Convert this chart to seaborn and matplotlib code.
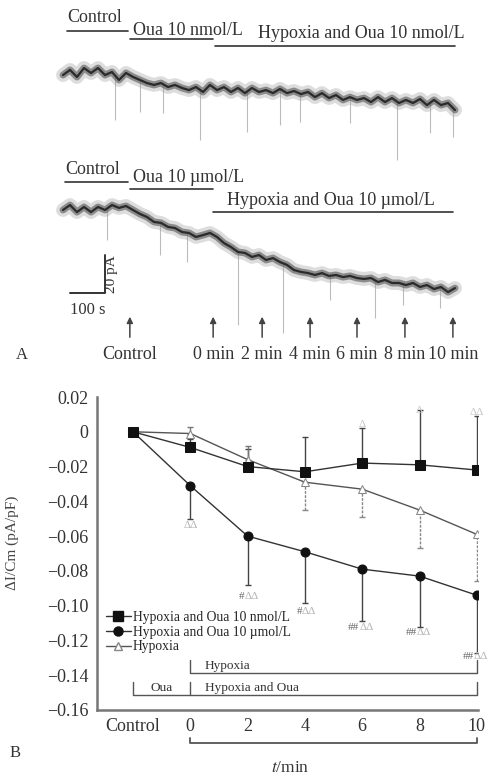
import numpy as np
import matplotlib
matplotlib.use("Agg")
import matplotlib.pyplot as plt
import matplotlib.transforms as mtransforms
import seaborn as sns
from matplotlib.lines import Line2D

sns.set_style("white")
plt.rcParams['font.family'] = ['Liberation Serif', 'DejaVu Serif']
plt.rcParams['mathtext.fontset'] = 'stix'

W, H = 500, 778
INK = "#333333"

# ---------------- panel A : whole-cell current traces (pA, 20 s per sample) ----------------
TRACE_DT = 20
top_trace = [-1.6, 1.1, -2.6, 2.1, -0.5, 2.1, -1.6, 0.0, -4.2, -0.5,
             -2.6, -4.2, -5.8, -6.8, -5.8, -7.9, -6.8, -8.4, -9.5, -7.9,
             -10.5, -6.8, -9.5, -7.9, -10.5, -8.4, -11.1, -8.4, -10.5, -9.5,
             -11.1, -8.9, -11.1, -10.0, -11.6, -10.5, -13.2, -11.1, -13.7, -12.1,
             -14.7, -13.2, -14.7, -13.7, -15.8, -13.2, -15.8, -13.7, -16.3, -14.7,
             -16.3, -14.2, -17.4, -14.7, -17.4, -16.3, -20.0]
bottom_trace = [0.0, 2.6, -1.1, 1.6, -1.1, 1.6, 0.0, 2.6, 1.1, 2.1,
                0.0, -2.1, -3.7, -6.3, -6.8, -8.9, -9.5, -11.6, -12.1, -14.2,
                -13.2, -12.1, -14.2, -17.4, -19.5, -22.1, -22.6, -24.7, -23.7, -26.3,
                -25.3, -27.4, -28.9, -31.6, -32.6, -33.2, -34.2, -33.2, -34.7, -34.2,
                -35.3, -34.7, -35.8, -36.3, -35.8, -37.9, -36.8, -38.4, -38.4, -39.5,
                -38.4, -40.5, -39.5, -41.6, -40.5, -43.2, -41.1]
top_spike_t = [149, 220, 286, 391, 526, 620, 677, 820, 954, 1049, 1114]
top_spike_depth = [-25.3, -21.0, -21.6, -35.8, -31.6, -27.9, -26.3, -26.8, -46.3, -32.1, -34.2]
bot_spike_t = [126, 277, 354, 500, 629, 763, 891, 971, 1077]
bot_spike_depth = [-15.8, -23.7, -27.4, -60.5, -64.7, -47.3, -56.8, -50.0, -51.6]
arrow_t = [191, 429, 569, 706, 840, 977, 1114]
arrow_labels = ["Control", "0 min", "2 min", "4 min", "6 min", "8 min", "10 min"]

# ---------------- panel B : ΔI/Cm (pA/pF) ----------------
time_labels = ["Control", "0", "2", "4", "6", "8", "10"]
nmol_mean = [0, -0.009, -0.020, -0.023, -0.018, -0.019, -0.022]
nmol_err_top = [np.nan, -0.004, -0.010, -0.003, 0.002, 0.0125, 0.009]
umol_mean = [0, -0.031, -0.060, -0.069, -0.079, -0.083, -0.094]
umol_err_bottom = [np.nan, -0.050, -0.088, -0.0985, -0.109, -0.112, -0.127]
hyp_mean = [0, -0.001, -0.016, -0.029, -0.033, -0.045, -0.059]
hyp_err_top = [np.nan, 0.003, -0.008, np.nan, np.nan, np.nan, np.nan]
hyp_err_bottom = [np.nan, np.nan, np.nan, -0.045, -0.049, -0.067, -0.086]
sig_hash = ["", "", "#", "#", "##", "##", "##"]
sig_delta = ["", "ΔΔ", "ΔΔ", "ΔΔ", "ΔΔ", "ΔΔ", "ΔΔ"]
sig_y = [np.nan, -0.054, -0.095, -0.1036, -0.1128, -0.1157, -0.1295]
top_mark = ["", "", "", "", "Δ", "Δ", "ΔΔ"]
top_mark_y = [np.nan, np.nan, np.nan, np.nan, 0.004, 0.0125, 0.011]
ytick_vals = [0.02, 0, -0.02, -0.04, -0.06, -0.08, -0.10, -0.12, -0.14, -0.16]
ytick_labels = ["0.02", "0", "\u22120.02", "\u22120.04", "\u22120.06", "\u22120.08",
                "\u22120.10", "\u22120.12", "\u22120.14", "\u22120.16"]
legend_labels = ["Hypoxia and Oua 10 nmol/L", "Hypoxia and Oua 10 \u00b5mol/L", "Hypoxia"]

fig = plt.figure(figsize=(W / 100, H / 100), dpi=100, facecolor="white")

# ---------- panel A ----------
axA = fig.add_axes([0, 1 - 370 / H, 1, 370 / H])
axA.set_xlim(-180, 1248.6)
axA.set_ylim(-84.2, 110.5)
axA.set_axis_off()
TOP_OFFSET = 72.6

trace_t = np.arange(len(top_trace)) * TRACE_DT
for vals, spk_t, spk_d, off in [(top_trace, top_spike_t, top_spike_depth, TOP_OFFSET),
                                (bottom_trace, bot_spike_t, bot_spike_depth, 0.0)]:
    y = np.array(vals) + off
    start = np.interp(spk_t, trace_t, y)
    axA.vlines(spk_t, start, np.array(spk_d) + off, color="#bbbbbb", lw=0.8, zorder=1)
    sns.lineplot(x=trace_t, y=y, ax=axA, color="#a0a0a0", lw=10, alpha=0.35, zorder=2)
    sns.lineplot(x=trace_t, y=y, ax=axA, color="#555555", lw=5, alpha=0.6, zorder=3)
    sns.lineplot(x=trace_t, y=y, ax=axA, color="#2a2a2a", lw=1.6, zorder=4)

# scale bar 100 s / 20 pA
axA.plot([20, 120, 120], [-43.7, -43.7, -23.7], color=INK, lw=1.4)
axA.text(140, -33.7, "20 pA", rotation=90, ha="center", va="center", fontsize=11, color=INK)
axA.text(70, -52.5, "100 s", ha="center", va="center", fontsize=12, color=INK)

for t, lab in zip(arrow_t, arrow_labels):
    axA.annotate("", xy=(t, -54.7), xytext=(t, -68.4),
                 arrowprops=dict(arrowstyle="-|>", color="#444444", lw=1.1, mutation_scale=9))
    axA.text(t, -76.3, lab, ha="center", va="center", fontsize=13, color=INK)

# ---------- pixel overlay for labels ----------
ov = fig.add_axes([0, 0, 1, 1], zorder=5)
ov.set_xlim(0, W)
ov.set_ylim(H, 0)
ov.set_axis_off()

def bar_label(text, tx, ty, x0, x1, by):
    ov.text(tx, ty, text, ha="left", va="center", fontsize=13, color=INK)
    ov.plot([x0, x1], [by, by], color=INK, lw=1.2)

bar_label("Control", 67, 17, 67, 128, 30.7)
bar_label("Oua 10 nmol/L", 133, 30, 130, 213, 39)
bar_label("Hypoxia and Oua 10 nmol/L", 258, 33, 215, 455, 46)
bar_label("Control", 65, 169, 65, 128, 181.7)
bar_label("Oua 10 \u00b5mol/L", 133, 177, 130, 213, 189.3)
bar_label("Hypoxia and Oua 10 \u00b5mol/L", 227, 200, 213, 453, 211.7)

ov.text(22, 355, "A", ha="center", va="center", fontsize=12, color=INK)
ov.text(15, 753, "B", ha="center", va="center", fontsize=12, color=INK)
ov.text(12, 543, "\u0394I/Cm (pA/pF)", rotation=90, ha="center", va="center", fontsize=11, color="#444444")
ov.text(290, 768, r"$t$/min", ha="center", va="center", fontsize=12.5, color=INK)

# ---------- panel B ----------
axB = fig.add_axes([97 / W, 1 - 710 / H, 381 / W, 313 / H])
x_pos = np.arange(len(time_labels))

sns.lineplot(x=x_pos, y=hyp_mean, ax=axB, color="#555555", lw=1.0, marker="^", markersize=6,
             markerfacecolor="white", markeredgecolor="#888888", zorder=4)
sns.lineplot(x=x_pos, y=umol_mean, ax=axB, color="#333333", lw=1.0, marker="o", markersize=6.5,
             markerfacecolor="#111111", markeredgecolor="#111111", zorder=5)
sns.lineplot(x=x_pos, y=nmol_mean, ax=axB, color="#333333", lw=1.0, marker="s", markersize=7,
             markerfacecolor="#111111", markeredgecolor="#111111", zorder=6)

def one_sided(mean, lim, up, color, ls):
    mean = np.array(mean, dtype=float)
    lim = np.array(lim, dtype=float)
    ok = ~np.isnan(lim)
    d = np.abs(lim[ok] - mean[ok])
    z = np.zeros_like(d)
    err = [z, d] if up else [d, z]
    eb = axB.errorbar(x_pos[ok], mean[ok], yerr=err, fmt="none", ecolor=color,
                      elinewidth=1.0, capsize=2.5, capthick=1.0, zorder=2)
    eb[2][0].set_linestyle(ls)

one_sided(nmol_mean, nmol_err_top, True, "#444444", "-")
one_sided(umol_mean, umol_err_bottom, False, "#444444", "-")
one_sided(hyp_mean, hyp_err_top, True, "#777777", "-")
one_sided(hyp_mean, hyp_err_bottom, False, "#888888", (0, (2, 1)))

for xi, h, dlt, yv in zip(x_pos, sig_hash, sig_delta, sig_y):
    if not dlt:
        continue
    if h:
        axB.text(xi - 0.05, yv, h, ha="right", va="center", fontsize=8, color="#666666")
        axB.text(xi - 0.05, yv, dlt, ha="left", va="center", fontsize=8, color="#b5b5b5", clip_on=False)
    else:
        axB.text(xi, yv, dlt, ha="center", va="center", fontsize=8, color="#b5b5b5")

for xi, m, yv in zip(x_pos, top_mark, top_mark_y):
    if m:
        axB.text(xi, yv, m, ha="center", va="center", fontsize=8, color="#c8c8c8", clip_on=False)

# brackets for treatment periods
bk = dict(color="#555555", lw=1.0, clip_on=False)
axB.plot([1, 1, 6, 6], [-0.1312, -0.1387, -0.1387, -0.1312], **bk)
axB.plot([0, 0, 6, 6], [-0.1439, -0.1514, -0.1514, -0.1439], **bk)
axB.plot([1, 1], [-0.1439, -0.1514], **bk)
axB.text(1.256, -0.1345, "Hypoxia", ha="left", va="center", fontsize=9.5, color=INK)
axB.text(0.5, -0.1475, "Oua", ha="center", va="center", fontsize=9.5, color=INK)
axB.text(1.256, -0.1475, "Hypoxia and Oua", ha="left", va="center", fontsize=9.5, color=INK)

trans = mtransforms.blended_transform_factory(axB.transData, axB.transAxes)
axB.plot([1, 1, 6, 6], [-0.088, -0.1054, -0.1054, -0.088], transform=trans,
         color="#555555", lw=1.3, clip_on=False)

axB.set_xlim(-0.628, 6.02)
axB.set_ylim(-0.16, 0.02)
axB.set_yticks(ytick_vals)
axB.set_yticklabels(ytick_labels)
axB.set_xticks(x_pos)
axB.set_xticklabels(time_labels)
axB.tick_params(direction="in", length=4, width=1, colors="#777777", labelcolor=INK,
                labelsize=13, pad=6)
sns.despine(ax=axB)
for s in ["left", "bottom"]:
    axB.spines[s].set_color("#777777")
    axB.spines[s].set_linewidth(1.8)
axB.set_xlabel("")
axB.set_ylabel("")

handles = [
    Line2D([], [], color="#333333", lw=1.0, marker="s", markersize=7, markerfacecolor="#111111", markeredgecolor="#111111"),
    Line2D([], [], color="#333333", lw=1.0, marker="o", markersize=6.5, markerfacecolor="#111111", markeredgecolor="#111111"),
    Line2D([], [], color="#555555", lw=1.0, marker="^", markersize=6, markerfacecolor="white", markeredgecolor="#888888"),
]
axB.legend(handles, legend_labels, loc="upper left", bbox_to_anchor=(106 / W, 1 - 611 / H),
           bbox_transform=fig.transFigure, frameon=False, fontsize=9.8, handlelength=1.8,
           handletextpad=0.15, labelspacing=0.12, borderpad=0, borderaxespad=0)

fig.savefig("out.png", dpi=100, facecolor="white")
